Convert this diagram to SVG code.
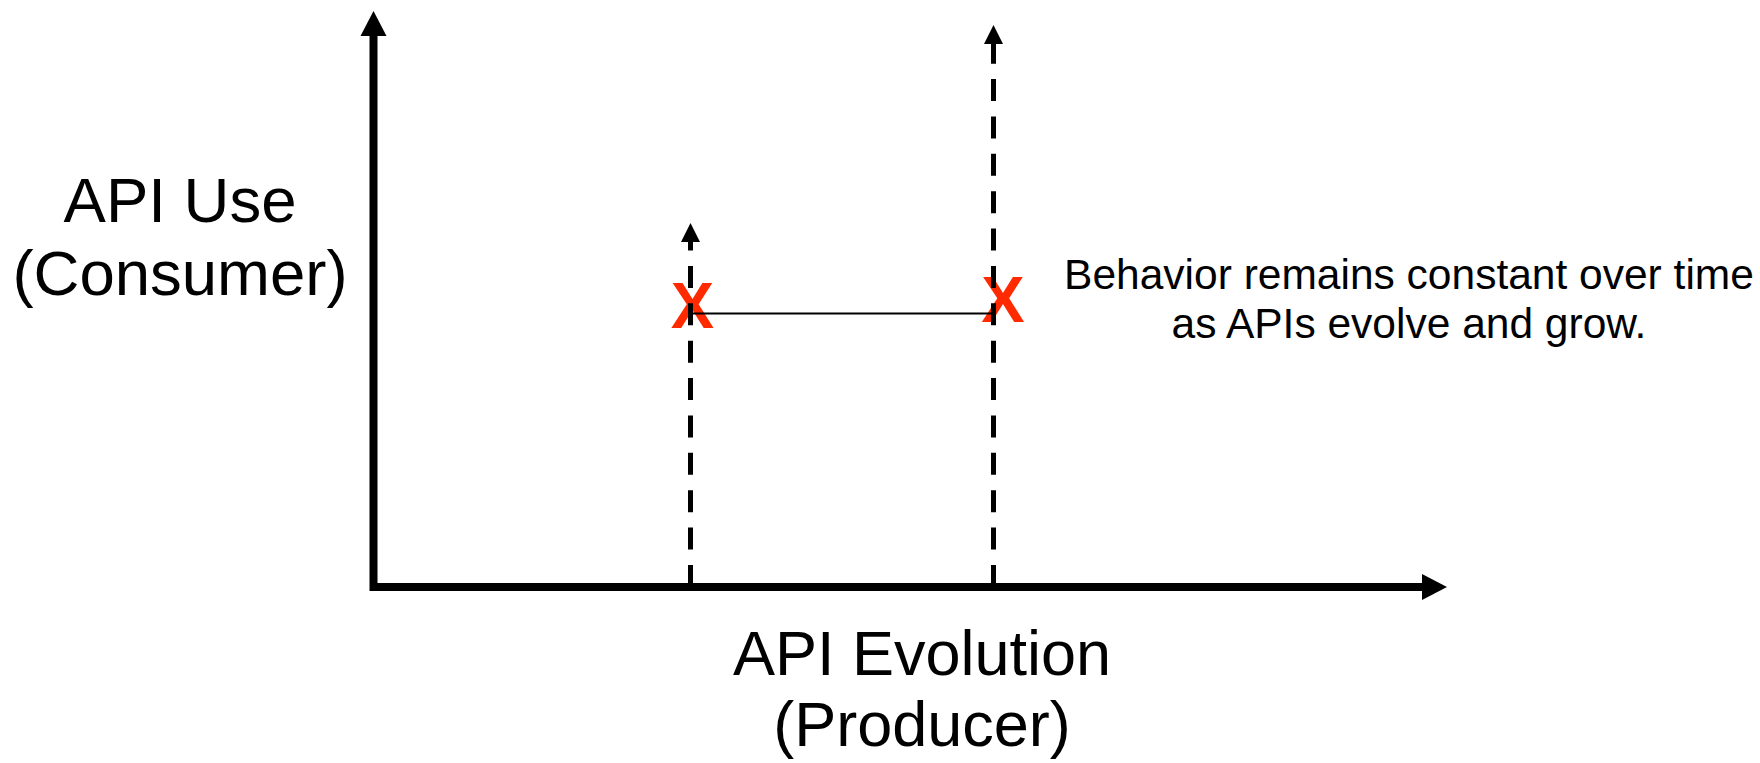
<svg xmlns="http://www.w3.org/2000/svg" width="1760" height="763" viewBox="0 0 1760 763">
  <style>
    .lbl { font-family: "Liberation Sans", Arial, Helvetica, sans-serif; fill: #000; text-anchor: middle; }
    .big { font-size: 63.5px; }
    .note { font-size: 42.5px; }
    .x { font-family: "Liberation Sans", Arial, Helvetica, sans-serif; font-weight: bold; font-size: 65px; fill: #FF2A00; text-anchor: middle; }
    .axis { stroke: #000; stroke-width: 8; fill: none; }
    .dash { stroke: #000; stroke-width: 5; fill: none; stroke-dasharray: 22 15.38; }
    .link { stroke: #000; stroke-width: 2; fill: none; }
  </style>
  <defs>
    <marker id="axisHead" markerUnits="userSpaceOnUse" markerWidth="25" markerHeight="26" viewBox="0 0 25 26" refX="0" refY="13" orient="auto" overflow="visible">
      <path d="M0,0 L25,13 L0,26 z" fill="#000"/>
    </marker>
    <marker id="dashHead" markerUnits="userSpaceOnUse" markerWidth="19" markerHeight="19" viewBox="0 0 19 19" refX="0" refY="9.5" orient="auto" overflow="visible">
      <path d="M0,0 L19,9.5 L0,19 z" fill="#000"/>
    </marker>
  </defs>
  <rect width="1760" height="763" fill="#fff"/>

  <g id="marker-left">
    <text class="x" x="692.5" y="328">X</text>
  </g>
  <g id="marker-right">
    <text class="x" x="1003" y="322">X</text>
  </g>

  <g id="connectors">
    <line class="axis" x1="373.5" y1="591" x2="373.5" y2="36" marker-end="url(#axisHead)"/>
    <line class="axis" x1="370" y1="587" x2="1422" y2="587" marker-end="url(#axisHead)"/>
    <line class="dash" x1="690.5" y1="587" x2="690.5" y2="242" marker-end="url(#dashHead)"/>
    <line class="dash" x1="993.5" y1="587" x2="993.5" y2="44" marker-end="url(#dashHead)"/>
    <line class="link" x1="692" y1="313.5" x2="992" y2="313.5"/>
  </g>

  <g id="y-axis-label">
    <text class="lbl big" x="180" y="222">API Use</text>
    <text class="lbl big" x="180" y="295">(Consumer)</text>
  </g>
  <g id="x-axis-label">
    <text class="lbl big" x="922" y="675" style="font-size:63px">API Evolution</text>
    <text class="lbl big" x="922" y="746" style="font-size:63px">(Producer)</text>
  </g>
  <g id="note">
    <text class="lbl note" x="1409" y="289">Behavior remains constant over time</text>
    <text class="lbl note" x="1409" y="338">as APIs evolve and grow.</text>
  </g>
</svg>
